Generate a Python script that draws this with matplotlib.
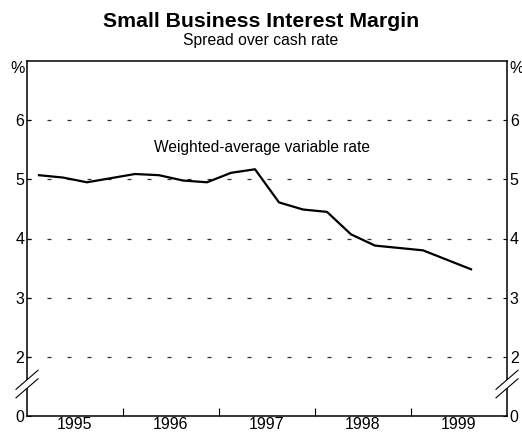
import numpy as np
import matplotlib
matplotlib.use("Agg")
import matplotlib.pyplot as plt
from matplotlib.patches import Polygon

plt.rcParams['font.family'] = ['Liberation Sans', 'DejaVu Sans']

# Quarterly data, plotted at mid-quarter (1995 Q1 .. 1999 Q3)
quarters = np.arange(1995.125, 1999.7, 0.25)
margin = [5.07, 5.03, 4.95, 5.02, 5.09, 5.07, 4.98, 4.95, 5.11, 5.17,
          4.61, 4.49, 4.45, 4.07, 3.88, 3.84, 3.80, 3.64, 3.48]

years = [1995, 1996, 1997, 1998, 1999]
ytick_vals = [2, 3, 4, 5, 6]

# axis is broken between 0 and 2: 0 sits one unit below 2
def shift(v):
    return np.asarray(v, dtype=float) - 1

fig = plt.figure(figsize=(5.22, 4.32), dpi=100)
ax = fig.add_axes([27 / 522, 16 / 432, 480 / 522, 355 / 432])

ax.plot(quarters, shift(margin), color='black', lw=1.6, zorder=3)

for v in ytick_vals:
    ax.axhline(shift(v), color='#333333', lw=0.9, dashes=(3.2, 12.8), zorder=1)

ax.set_xlim(1995, 2000)
ax.set_ylim(0, 6)

# y ticks both sides, bottom shows 0 label
ax.set_yticks(list(shift(ytick_vals)) + [0])
ax.set_yticklabels([str(v) for v in ytick_vals] + ['0'])
ax.tick_params(axis='y', which='both', direction='in', length=3, width=0.8,
               labelsize=11.5, pad=2, left=True, right=True,
               labelleft=True, labelright=True)

# x: ticks at year boundaries, labels at mid-year
ax.set_xticks(years[1:])
ax.set_xticklabels([])
ax.set_xticks([y + 0.5 for y in years], minor=True)
ax.set_xticklabels([str(y) for y in years], minor=True)
ax.tick_params(axis='x', which='major', direction='in', length=6, width=0.8)
ax.tick_params(axis='x', which='minor', length=0, labelsize=11.5, pad=1)

for s in ax.spines.values():
    s.set_linewidth(1.1)

ax.text(-0.005, 1.0, '%', transform=ax.transAxes, ha='right', va='top', fontsize=11.5)
ax.text(1.005, 1.0, '%', transform=ax.transAxes, ha='left', va='top', fontsize=11.5)

ax.text(1997.45, shift(5.53), 'Weighted-average variable rate',
        ha='center', va='center', fontsize=11.2)

fig.text(0.5, 0.951, 'Small Business Interest Margin', ha='center', va='center',
         fontsize=15.3, fontweight='bold')
fig.text(0.5, 0.907, 'Spread over cash rate', ha='center', va='center', fontsize=11.3)

# break marks on both vertical axes
dx = 11 / 480
dy = 9.5 / 355
for xc in (0.0, 1.0):
    y1, y2 = 0.102, 0.078
    ax.add_patch(Polygon([[xc - dx, y1 - dy], [xc + dx, y1 + dy],
                          [xc + dx, y2 + dy], [xc - dx, y2 - dy]],
                         closed=True, transform=ax.transAxes, facecolor='white',
                         edgecolor='none', clip_on=False, zorder=4))
    for yc in (y1, y2):
        ax.plot([xc - dx, xc + dx], [yc - dy, yc + dy], transform=ax.transAxes,
                color='black', lw=0.8, clip_on=False, zorder=5)

fig.savefig('out.png', dpi=100)
